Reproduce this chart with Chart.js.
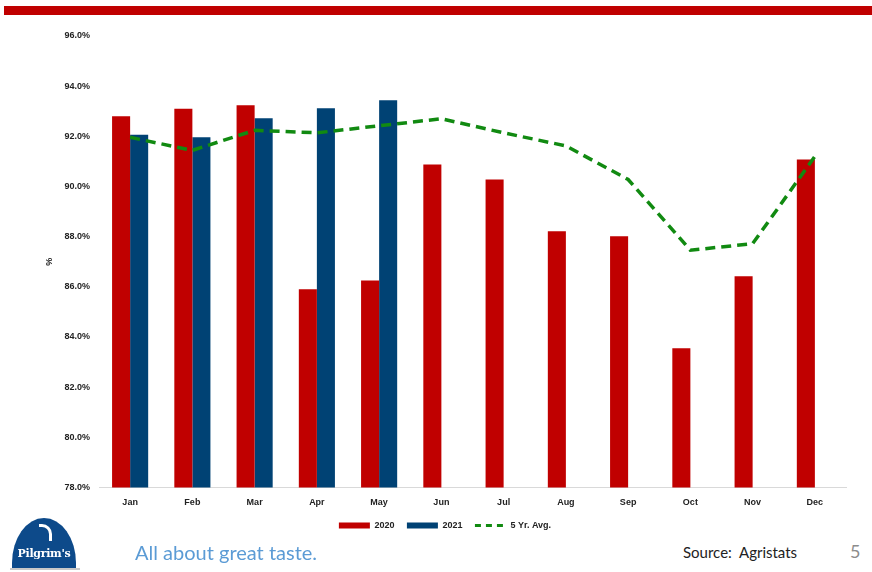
<!DOCTYPE html>
<html>
<head>
<meta charset="utf-8">
<script src="https://cdn.jsdelivr.net/npm/chart.js@4"></script>
<style>
  html, body { margin: 0; padding: 0; background: #fff; }
  body { width: 872px; height: 572px; position: relative; overflow: hidden; font-family: Lato, 'Liberation Sans', sans-serif; }
  #topbar { position: absolute; left: 4px; top: 6px; width: 868px; height: 9px; background: #c00000; }
  #wrap { position: absolute; left: 0; top: 0; width: 872px; height: 540px; }
  #logo { position: absolute; left: 12px; top: 518px; width: 64px; height: 50px; background: #0d4a8a;
    border-radius: 50% 50% 0 0 / 90% 90% 0 0; color: #fff; text-align: center; }
  #logo .mark { position: absolute; left: 27px; top: 6px; width: 10px; height: 14px; border: 3px solid #fff; border-left: none; border-bottom: none; border-radius: 0 10px 0 0; }
  #logo .name { position: absolute; left: 0; right: 0; top: 29px; font: bold 11px 'DejaVu Serif', serif; letter-spacing: -0.3px; }
  #logo-line { position: absolute; left: 10px; top: 568px; width: 70px; height: 2px; background: #c8c8c8; }
  #tagline { position: absolute; left: 135px; top: 540px; font-size: 20px; color: #5b9bd5; }
  #source { position: absolute; left: 683px; top: 543px; font-size: 15px; color: #222; }
  #page { position: absolute; left: 850px; top: 540px; font-size: 18px; color: #8c8c8c; }
</style>
</head>
<body>
<div id="topbar"></div>
<div id="wrap"><canvas id="chart"></canvas></div>
<div id="logo"><div class="mark"></div><div class="name">Pilgrim's</div></div>
<div id="logo-line"></div>
<div id="tagline">All about great taste.</div>
<div id="source">Source:&nbsp; Agristats</div>
<div id="page">5</div>
<script>
const months = ['Jan', 'Feb', 'Mar', 'Apr', 'May', 'Jun', 'Jul', 'Aug', 'Sep', 'Oct', 'Nov', 'Dec']
const values2020 = [92.8, 93.1, 93.24, 85.9, 86.25, 90.88, 90.28, 88.22, 88.02, 83.55, 86.42, 91.08]
const values2021 = [92.06, 91.96, 92.72, 93.12, 93.44, null, null, null, null, null, null, null]
const fiveYrAvg = [91.96, 91.44, 92.24, 92.14, 92.42, 92.7, 92.14, 91.62, 90.28, 87.46, 87.72, 91.2]
const yTicks = [78, 80, 82, 84, 86, 88, 90, 92, 94, 96]

const red = '#c00000'
const blue = '#004274'
const green = '#118a11'
const tickFont = { family: "'Liberation Sans', Arial, sans-serif", size: 9, weight: 'bold' }

const chart = new Chart(document.getElementById('chart'), {
  type: 'bar',
  data: {
    labels: months,
    datasets: [
      { label: '2020', data: values2020, backgroundColor: red, order: 2 },
      { label: '2021', data: values2021, backgroundColor: blue, order: 3 },
      {
        type: 'line', label: '5 Yr. Avg.', data: fiveYrAvg, borderColor: green, backgroundColor: green,
        borderWidth: 3.5, borderDash: [10, 6], pointRadius: 0, tension: 0, order: 1
      }
    ]
  },
  options: {
    responsive: true,
    maintainAspectRatio: false,
    animation: false,
    datasets: { bar: { barPercentage: 1, categoryPercentage: 0.58 } },
    layout: { padding: { left: 44, right: 26, top: 36, bottom: 0 } },
    plugins: {
      tooltip: { enabled: false },
      legend: {
        position: 'bottom',
        labels: {
          font: tickFont, color: '#222', usePointStyle: true, pointStyleWidth: 31, boxHeight: 6, padding: 12.5,
          sort: (a, b) => a.datasetIndex - b.datasetIndex,
          generateLabels: (c) => Chart.defaults.plugins.legend.labels.generateLabels(c).map((item) => {
            if (item.datasetIndex < 2) { item.pointStyle = 'rect'; item.lineWidth = 0 }
            else { item.pointStyle = 'line'; item.lineWidth = 3; item.lineDash = [6, 5] }
            return item
          })
        }
      }
    },
    scales: {
      x: {
        afterFit: (s) => { s.height = 21 },
        grid: { display: false, drawTicks: false },
        border: { color: '#d9d9d9' },
        ticks: { font: tickFont, color: '#222', padding: 10 }
      },
      y: {
        min: 78, max: 96,
        afterFit: (s) => { s.width = 55 },
        afterBuildTicks: (s) => { s.ticks = yTicks.map(v => ({ value: v })) },
        grid: { display: false, drawTicks: false },
        border: { display: false },
        title: { display: true, text: '%', font: tickFont, color: '#222', padding: 0 },
        ticks: { font: tickFont, color: '#222', padding: 9, callback: (v) => v.toFixed(1) + '%' }
      }
    }
  }
})
</script>
</body>
</html>
